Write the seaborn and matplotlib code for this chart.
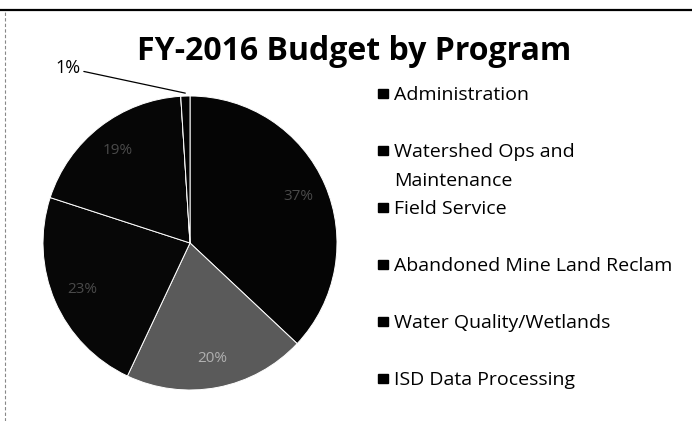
import matplotlib
matplotlib.use("Agg")
import matplotlib.pyplot as plt
import seaborn as sns
import numpy as np
from matplotlib.patches import Rectangle
from matplotlib.lines import Line2D

# ---- data ----
categories = ["Administration", "Watershed Ops and\nMaintenance", "Field Service",
              "Abandoned Mine Land Reclam", "Water Quality/Wetlands", "ISD Data Processing"]
values = [37, 20, 23, 19, 0, 1]
slice_colors = ["#050505", "#5a5a5a", "#070707", "#060606", "#080808", "#040404"]
title = "FY-2016 Budget by Program"

sns.set_theme(style="white")
plt.rcParams['font.family'] = ['Open Sans', 'DejaVu Sans']

W, H = 692, 421
fig = plt.figure(figsize=(W / 100, H / 100), dpi=100)

# pie axes: centre (190,243) px, radius 147 px
cx, cy, r = 190, 243, 147
ax = fig.add_axes([(cx - r) / W, (H - cy - r) / H, 2 * r / W, 2 * r / H])
total = sum(values)
wedges, _ = ax.pie(values, colors=slice_colors, startangle=90, counterclock=False,
                   wedgeprops=dict(edgecolor="white", linewidth=0.7))
ax.set_xlim(-1, 1)
ax.set_ylim(-1, 1)
ax.set_aspect("equal")
ax.axis("off")

for w, v, c in zip(wedges, values, slice_colors):
    if v <= 0:
        continue
    ang = np.deg2rad((w.theta1 + w.theta2) / 2)
    pct = f"{round(100 * v / total)}%"
    if 100 * v / total < 3:
        x, y = np.cos(ang), np.sin(ang)
        ax.annotate(pct, xy=(x * 1.02, y * 1.02), xytext=(-0.83, 1.19),
                    ha="center", va="center", fontsize=13, color="black",
                    annotation_clip=False,
                    arrowprops=dict(arrowstyle="-", color="black", lw=0.9,
                                    shrinkA=0, shrinkB=0))
    else:
        light = int(c[1:3], 16) > 60
        ax.text(0.8 * np.cos(ang), 0.8 * np.sin(ang), pct, ha="center", va="center",
                fontsize=11, color="#b0b0b0" if light else "#4a4a4a")

# title
fig.text(354 / W, 1 - 60 / H, title, ha="center", va="baseline",
         fontsize=23, fontweight="bold", color="black")

# legend (manual, Excel-like uniform slots)
base0 = 100
step = 57
line_gap = 29
for i, lab in enumerate(categories):
    yb = base0 + i * step
    for j, part in enumerate(lab.split("\n")):
        fig.text(394 / W, 1 - (yb + j * line_gap) / H, part, ha="left", va="baseline",
                 fontsize=14, color="black")
    fig.patches.append(Rectangle((378 / W, 1 - (yb - 2) / H), 10 / W, 9 / H,
                                 transform=fig.transFigure, facecolor="black",
                                 edgecolor="black", figure=fig))

# chart frame lines (top and left)
fig.add_artist(Line2D([0, 1], [1 - 10 / H, 1 - 10 / H], transform=fig.transFigure,
                      color="black", lw=1.6))
fig.add_artist(Line2D([5 / W, 5 / W], [0, 1 - 10 / H], transform=fig.transFigure,
                      color="#888888", lw=0.8, ls=(0, (3, 2))))

fig.savefig("out.png", dpi=100, facecolor="white")
